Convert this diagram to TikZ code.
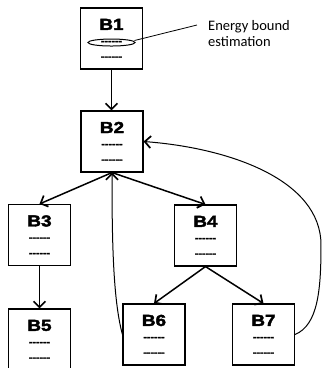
\documentclass[tikz,border=0pt]{standalone}
\usepackage{fontspec}
\usetikzlibrary{arrows.meta,shapes.geometric,calc}
\newfontfamily\blkfont[FakeStretch=1.18,Ligatures=TeXOff,BoldFeatures={FakeBold=2.5}]{Liberation Sans}
\newfontfamily\notefont{Carlito}
% one block: frame, title and two dash rows
\newcommand\codeblock[3]{%
  \node[blockbox] (#1) at #3 {};
  \node[blocktitle] (#1-t) at ($(#1.north)+(0,17)$) {#2};
  \node[dashrow] (#1-a) at ($(#1.north)+(0,36.5)$) {------};
  \node[dashrow] (#1-b) at ($(#1.north)+(0,52)$) {------};
}
\begin{document}
\begin{tikzpicture}[x=1pt,y=-1pt,
  blockbox/.style={draw=black,line width=1.1pt,fill=white,minimum width=62pt,minimum height=61pt,inner sep=0pt},
  blocktitle/.style={font=\blkfont\bfseries\fontsize{16}{17}\selectfont,inner sep=0pt},
  dashrow/.style={font=\blkfont\bfseries\fontsize{9}{10}\selectfont,inner sep=0pt,anchor=base},
  tip/.style={-{Straight Barb[length=6pt,width=12pt,line width=1.7pt]}},
  flow/.style={line width=1.5pt,tip},
  loop/.style={line width=1pt,tip},
]
\useasboundingbox (0,0) rectangle (322,368);

\codeblock{B1}{B1}{(111.5,38.5)}
\codeblock{B2}{B2}{(112,141.5)}
\codeblock{B3}{B3}{(39.5,235)}
\codeblock{B4}{B4}{(205.5,235.5)}
\codeblock{B5}{B5}{(39.5,339.5)}
\codeblock{B6}{B6}{(154,334.5)}
\codeblock{B7}{B7}{(263.5,334.5)}

% callout on the first dash row of B1
\node[draw,ellipse,line width=1pt,minimum width=47pt,minimum height=7pt,inner sep=0pt] (ring) at (B1-a) {};
\node[font=\notefont\fontsize{14.5}{16}\selectfont,align=left,inner sep=0pt,anchor=base west] (note) at (208,46) {Energy bound\\estimation};
\coordinate (noteend) at (197,25);
\draw[line width=0.8pt] ($(ring.east)+(-1,-2)$) -- (noteend);

% control flow
\draw[flow] (B1.south) -- (B1.south |- B2.north);
\draw[flow] (B2.south) -- (B3.north);
\draw[flow] (B2.south) -- (B4.north);
\draw[flow] (B3.south) -- (B5.north);
\draw[flow] (B4.south) -- (B6.north);
\draw[flow] (B4.south) -- (B7.north);

% back edges
\draw[loop] (B6.west) .. controls (113,300) and (112,240) .. (B2.south);
\draw[loop] (B7.east) .. controls (318,325) and (321,290) .. (321,245)
                      .. controls (321,180) and (230,148) .. (B2.east);
\end{tikzpicture}
\end{document}
